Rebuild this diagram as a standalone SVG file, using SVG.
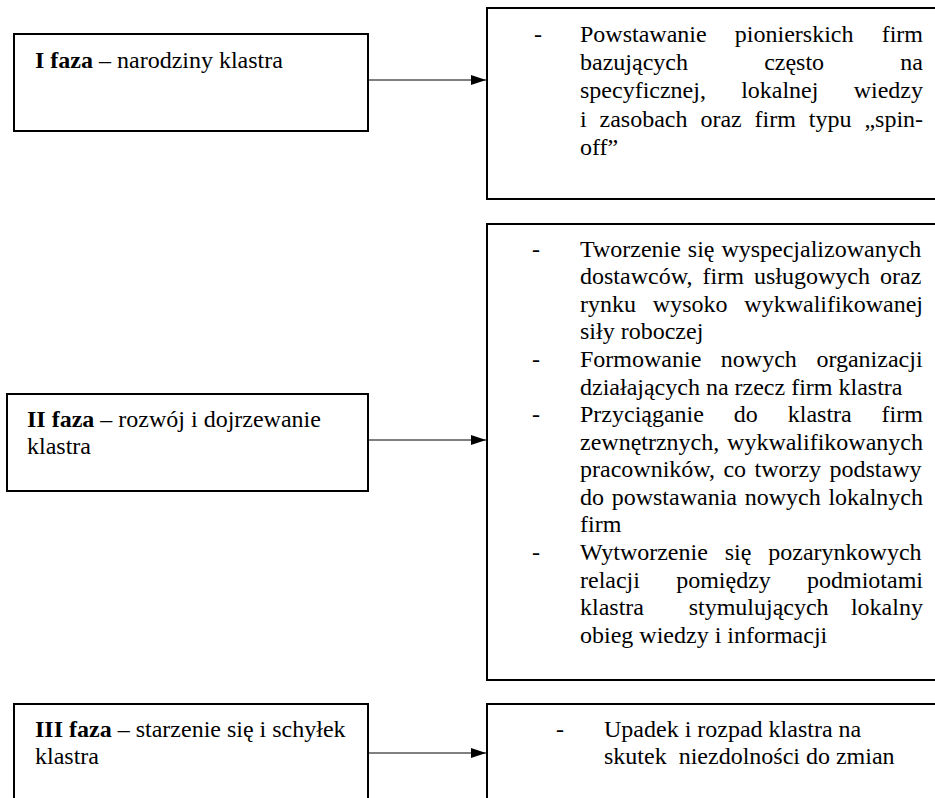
<svg xmlns="http://www.w3.org/2000/svg" width="935" height="798" viewBox="0 0 935 798">
<style>
.box{fill:#fff;stroke:#000;stroke-width:2}
text{font-family:"Liberation Serif","Times New Roman",serif;font-size:24px;fill:#000}
.b{font-weight:bold}
.conn line{stroke:#000;stroke-width:1}
</style>
<defs>
<marker id="arr" viewBox="0 0 15 10" refX="15" refY="5" markerWidth="15" markerHeight="10" markerUnits="userSpaceOnUse" orient="auto">
<path d="M0,0 L15,5 L0,10 Z" fill="#000"/>
</marker>
</defs>
<rect width="935" height="798" fill="#fff"/>

<g id="faza1">
<rect class="box" x="14" y="34" width="354" height="97"/>
<text x="35" y="68"><tspan class="b">I faza</tspan> – narodziny klastra</text>
</g>

<g id="opis1">
<rect class="box" x="487" y="8" width="460" height="191"/>
<text x="534" y="42">-</text>
<text x="580" y="42" style="word-spacing:22.2px">Powstawanie pionierskich firm</text>
<text x="580" y="70.2" style="word-spacing:70.2px">bazujących często na</text>
<text x="580" y="98.4" style="word-spacing:29.2px">specyficznej, lokalnej wiedzy</text>
<text x="580" y="126.6" style="word-spacing:6.9px">i zasobach oraz firm typu „spin-</text>
<text x="580" y="154.8">off”</text>
</g>

<g id="faza2">
<rect class="box" x="7" y="394" width="361" height="97"/>
<text x="27" y="427"><tspan class="b">II faza</tspan> – rozwój i dojrzewanie</text>
<text x="27" y="454">klastra</text>
</g>

<g id="opis2">
<rect class="box" x="487" y="224" width="460" height="456"/>
<text x="532" y="256.7">-</text>
<text x="532" y="367">-</text>
<text x="532" y="422.1">-</text>
<text x="532" y="560">-</text>
<text x="580" y="256.7" style="word-spacing:0.9px">Tworzenie się wyspecjalizowanych</text>
<text x="580" y="284.3" style="word-spacing:4.13px">dostawców, firm usługowych oraz</text>
<text x="580" y="311.8" style="word-spacing:10.85px">rynku wysoko wykwalifikowanej</text>
<text x="580" y="339.4">siły roboczej</text>
<text x="580" y="367" style="word-spacing:13.55px">Formowanie nowych organizacji</text>
<text x="580" y="394.6">działających na rzecz firm klastra</text>
<text x="580" y="422.1" style="word-spacing:23.9px">Przyciąganie do klastra firm</text>
<text x="580" y="449.7" style="word-spacing:1.8px">zewnętrznych, wykwalifikowanych</text>
<text x="580" y="477.3" style="word-spacing:2.37px">pracowników, co tworzy podstawy</text>
<text x="580" y="504.8" style="word-spacing:1.7px">do powstawania nowych lokalnych</text>
<text x="580" y="532.4">firm</text>
<text x="580" y="560" style="word-spacing:10.9px">Wytworzenie się pozarynkowych</text>
<text x="580" y="587.5" style="word-spacing:30.2px">relacji pomiędzy podmiotami</text>
<text x="580" y="615.1" style="word-spacing:16.33px">klastra&#160; stymulujących lokalny</text>
<text x="580" y="642.7">obieg wiedzy i informacji</text>
</g>

<g id="faza3">
<rect class="box" x="14" y="704" width="354" height="110"/>
<text x="35" y="737"><tspan class="b">III faza</tspan> – starzenie się i schyłek</text>
<text x="35" y="764">klastra</text>
</g>

<g id="opis3">
<rect class="box" x="487" y="704" width="460" height="110"/>
<text x="556" y="737">-</text>
<text x="604" y="737">Upadek i rozpad klastra na</text>
<text x="604" y="764.3">skutek&#160; niezdolności do zmian</text>
</g>

<g id="connectors" class="conn">
<line x1="368" y1="80" x2="486" y2="80" marker-end="url(#arr)"/>
<line x1="368" y1="440" x2="486" y2="440" marker-end="url(#arr)"/>
<line x1="368" y1="753" x2="486" y2="753" marker-end="url(#arr)"/>
</g>
</svg>
